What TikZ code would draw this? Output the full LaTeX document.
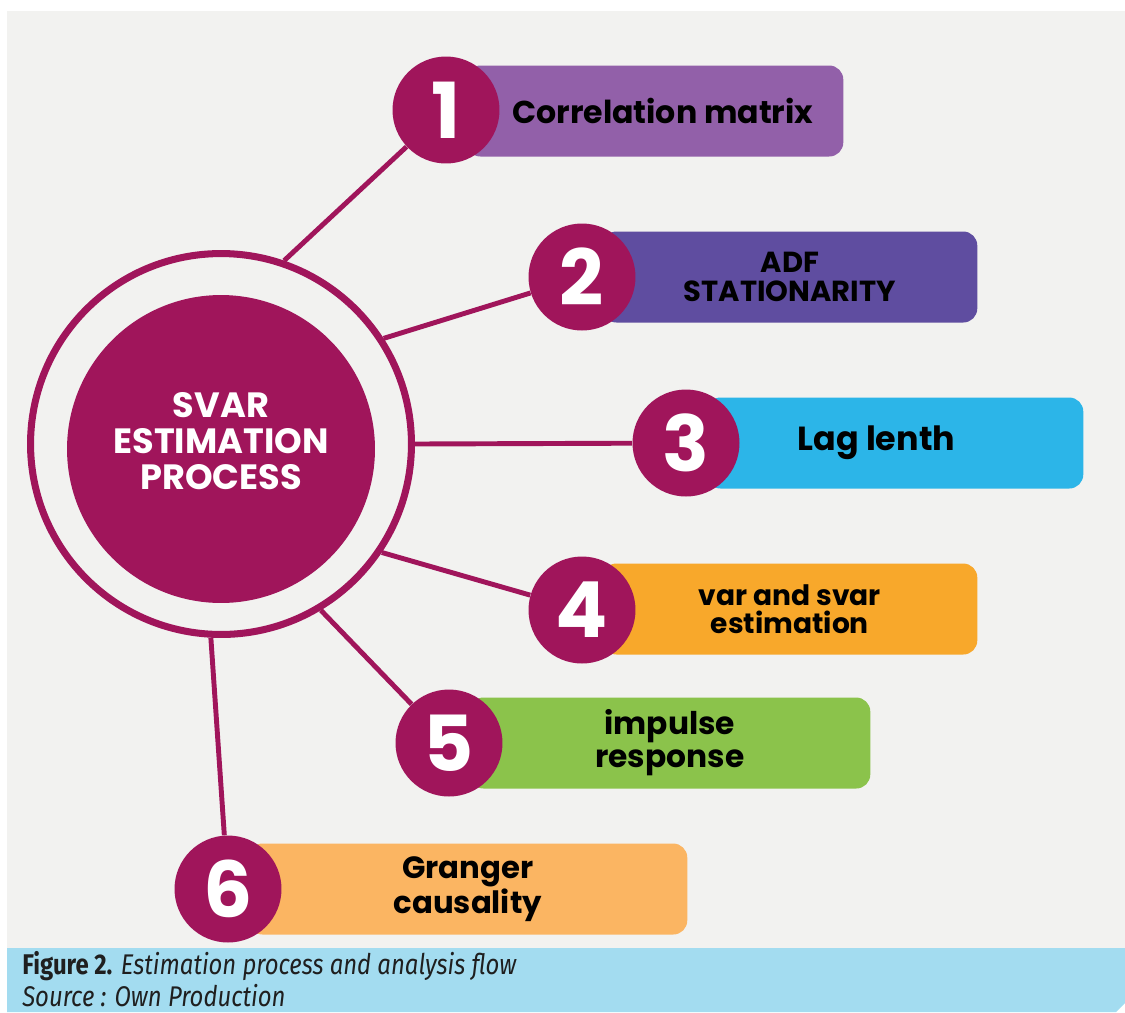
\documentclass[tikz,border=0pt]{standalone}
\usepackage{xcolor}
\usepackage{fontspec}
\usepackage{tikz}
\usetikzlibrary{positioning}

\newfontfamily\boxfont{Poppins}
\newfontfamily\capfont[FakeStretch=0.84]{Fira Sans}

\definecolor{svarmag}{HTML}{A0155B}
\definecolor{bgpanel}{HTML}{F2F2F0}
\definecolor{capband}{HTML}{A3DCF0}
\definecolor{boxone}{HTML}{9260A9}
\definecolor{boxtwo}{HTML}{5F4DA0}
\definecolor{boxthree}{HTML}{2CB5E8}
\definecolor{boxfour}{HTML}{F8A82B}
\definecolor{boxfive}{HTML}{8BC34B}
\definecolor{boxsix}{HTML}{FBB562}

\tikzset{
  stepbox/.style={rounded corners=8pt, anchor=west, minimum height=1.82cm,
    inner sep=0pt, align=center, text=black},
  stepnum/.style={circle, fill=svarmag, text=white, minimum size=2.14cm,
    inner sep=0pt, font=\boxfont\bfseries\fontsize{44}{44}\selectfont},
  link/.style={svarmag, line width=2.8pt},
}

\begin{document}
\begin{tikzpicture}[x=0.02cm, y=-0.02cm]
  \useasboundingbox (0,0) rectangle (1125,1012);
  \fill[white] (0,0) rectangle (1125,1012);
  \fill[bgpanel] (7,11) rectangle (1125,948);
  \fill[capband] (7,948) -- (1125,948) -- (1125,1003) -- (1116,1012) -- (7,1012) -- cycle;

  % centre of the diagram
  \node[circle, draw=svarmag, line width=4pt, minimum size=7.62cm, inner sep=0pt] (ring) at (221,444) {};
  \node[circle, fill=svarmag, minimum size=6.16cm, inner sep=0pt] (core) at (221,449) {};
  \node[text=white, align=center, inner sep=0pt,
    font=\boxfont\bfseries\fontsize{20}{20.5}\selectfont] (title) at (221,441) {SVAR\\ESTIMATION\\PROCESS};

  % coloured boxes, behind the numbers
  \node[stepbox, fill=boxone, minimum width=7.54cm, font=\boxfont\bfseries\fontsize{18}{20}\selectfont] (b1) at (466,111) {\hspace*{0.32cm}Correlation matrix};
  \node[stepbox, fill=boxtwo, minimum width=7.5cm, font=\boxfont\bfseries\fontsize{16.5}{16.5}\selectfont] (b2) at (602,277) {ADF\\STATIONARITY};
  \node[stepbox, fill=boxthree, minimum width=7.54cm, font=\boxfont\bfseries\fontsize{19}{20}\selectfont] (b3) at (706,443) {\raisebox{-0.1cm}{Lag lenth}\hspace*{1.1em}};
  \node[stepbox, fill=boxfour, minimum width=7.5cm, font=\boxfont\bfseries\fontsize{16}{16}\selectfont] (b4) at (602,609) {var and svar\\estimation};
  \node[stepbox, fill=boxfive, minimum width=8.02cm, font=\boxfont\bfseries\fontsize{17.8}{18.8}\selectfont] (b5) at (469,743) {impulse\\response};
  \node[stepbox, fill=boxsix, minimum width=8.78cm, font=\boxfont\bfseries\fontsize{17.5}{15.8}\selectfont] (b6) at (248,889) {Granger\\causality};

  % numbered circles
  \node[stepnum] (n1) at (446,110) {1};
  \node[stepnum] (n2) at (582,277) {2};
  \node[stepnum] (n3) at (686,443) {3};
  \node[stepnum] (n4) at (582,610) {4};
  \node[stepnum] (n5) at (449,743) {5};
  \node[stepnum] (n6) at (228,889) {6};

  % spokes
  \draw[link] (ring.71) -- (n1);
  \draw[link] (ring.33) -- (n2);
  \draw[link] (ring.0) -- (n3);
  \draw[link] (ring.-34) -- (n4);
  \draw[link] (ring.-59) -- (n5);
  \draw[link] (ring.-93) -- (n6);

  % caption
  \node[anchor=north west, align=left, inner sep=0pt, text=black!88,
    font=\capfont\fontsize{16.2}{18}\selectfont] (cap) at (22,951)
    {\textbf{Figure 2.} \textit{Estimation process and analysis flow}\\\textit{Source : Own Production}};
\end{tikzpicture}
\end{document}
